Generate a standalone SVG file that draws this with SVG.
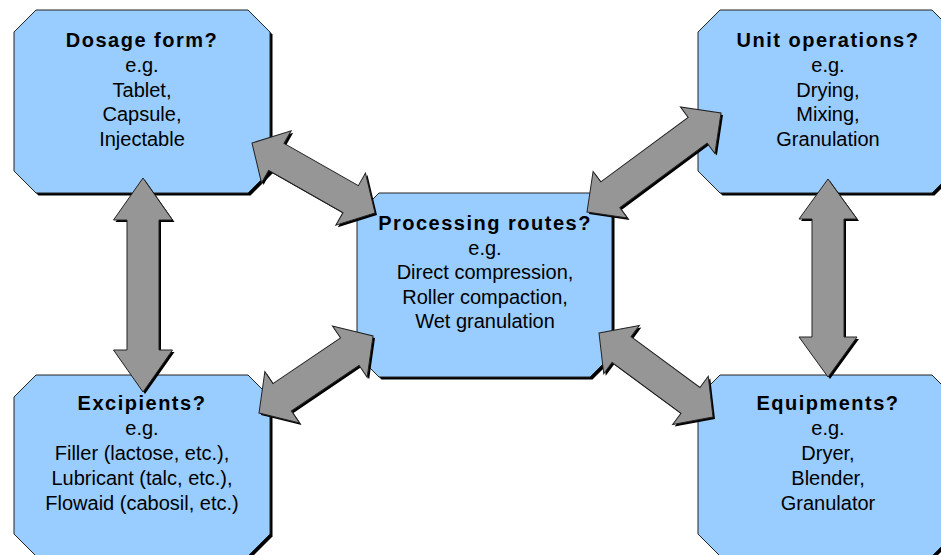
<svg xmlns="http://www.w3.org/2000/svg" width="941" height="555" viewBox="0 0 941 555">
<style>
.box{fill:#99CCFF;stroke:#222;stroke-width:1}
.shadow{fill:#000}
.arr{fill:#969696;stroke:#222;stroke-width:1;stroke-linejoin:miter}
text{font-family:"Liberation Sans",Arial,sans-serif;font-size:20px;fill:#000;text-anchor:middle}
.t{font-weight:bold;letter-spacing:1.5px}
</style>
<rect width="941" height="555" fill="#fff"/>
<g id="dosage">
<polygon class="shadow" transform="translate(2.5,2.5)" points="36,10 248,10 270,32 270,171 248,193 36,193 14,171 14,32"/>
<polygon class="box" points="36,10 248,10 270,32 270,171 248,193 36,193 14,171 14,32"/>
<text x="142" y="47" class="t">Dosage form?</text>
<text x="142" y="72">e.g.</text>
<text x="142" y="97">Tablet,</text>
<text x="142" y="121">Capsule,</text>
<text x="142" y="146">Injectable</text>
</g>
<g id="unitops">
<polygon class="shadow" transform="translate(2.5,2.5)" points="720,10 932,10 954,32 954,171 932,193 720,193 698,171 698,32"/>
<polygon class="box" points="720,10 932,10 954,32 954,171 932,193 720,193 698,171 698,32"/>
<text x="828" y="47" class="t">Unit operations?</text>
<text x="828" y="72">e.g.</text>
<text x="828" y="97">Drying,</text>
<text x="828" y="121">Mixing,</text>
<text x="828" y="146">Granulation</text>
</g>
<g id="routes">
<polygon class="shadow" transform="translate(2.5,2.5)" points="379,193 590,193 612,215 612,355 590,377 379,377 357,355 357,215"/>
<polygon class="box" points="379,193 590,193 612,215 612,355 590,377 379,377 357,355 357,215"/>
<text x="485" y="230" class="t">Processing routes?</text>
<text x="485" y="255">e.g.</text>
<text x="485" y="279">Direct compression,</text>
<text x="485" y="304">Roller compaction,</text>
<text x="485" y="328">Wet granulation</text>
</g>
<g id="excipients">
<polygon class="shadow" transform="translate(2.5,2.5)" points="36,375 248,375 270,397 270,534 248,556 36,556 14,534 14,397"/>
<polygon class="box" points="36,375 248,375 270,397 270,534 248,556 36,556 14,534 14,397"/>
<text x="142" y="410" class="t">Excipients?</text>
<text x="142" y="435">e.g.</text>
<text x="142" y="460">Filler (lactose, etc.),</text>
<text x="142" y="485">Lubricant (talc, etc.),</text>
<text x="142" y="510">Flowaid (cabosil, etc.)</text>
</g>
<g id="equipments">
<polygon class="shadow" transform="translate(2.5,2.5)" points="720,375 932,375 954,397 954,534 932,556 720,556 698,534 698,397"/>
<polygon class="box" points="720,375 932,375 954,397 954,534 932,556 720,556 698,534 698,397"/>
<text x="828" y="410" class="t">Equipments?</text>
<text x="828" y="435">e.g.</text>
<text x="828" y="460">Dryer,</text>
<text x="828" y="485">Blender,</text>
<text x="828" y="510">Granulator</text>
</g>
<g id="connectors">
<g transform="translate(2,2)">
<polygon class="shadow" transform="translate(252,143) rotate(29.64)" points="0,0 28,-30 28,-15.5 113.5,-15.5 113.5,-30 141.5,0 113.5,30 113.5,15.5 28,15.5 28,30"/>
<polygon class="shadow" transform="translate(587,212) rotate(-36.46)" points="0,0 29,-29 29,-16 137.6,-16 137.6,-29 166.6,0 137.6,29 137.6,16 29,16 29,29"/>
<polygon class="shadow" transform="translate(259,413) rotate(-34.04)" points="0,0 28,-31 28,-16.5 109.6,-16.5 109.6,-31 137.6,0 109.6,31 109.6,16.5 28,16.5 28,31"/>
<polygon class="shadow" transform="translate(599,333) rotate(36.38)" points="0,0 28,-30 28,-16 113.6,-16 113.6,-30 141.6,0 113.6,30 113.6,16 28,16 28,30"/>
<polygon class="shadow" transform="translate(143,178) rotate(90)" points="0,0 42,-29.5 42,-16 172,-16 172,-29.5 214,0 172,29.5 172,16 42,16 42,29.5"/>
<polygon class="shadow" transform="translate(828,179) rotate(90)" points="0,0 40,-29 40,-16 158,-16 158,-29 198,0 158,29 158,16 40,16 40,29"/>
</g>
<polygon class="arr" transform="translate(252,143) rotate(29.64)" points="0,0 28,-30 28,-15.5 113.5,-15.5 113.5,-30 141.5,0 113.5,30 113.5,15.5 28,15.5 28,30"/>
<polygon class="arr" transform="translate(587,212) rotate(-36.46)" points="0,0 29,-29 29,-16 137.6,-16 137.6,-29 166.6,0 137.6,29 137.6,16 29,16 29,29"/>
<polygon class="arr" transform="translate(259,413) rotate(-34.04)" points="0,0 28,-31 28,-16.5 109.6,-16.5 109.6,-31 137.6,0 109.6,31 109.6,16.5 28,16.5 28,31"/>
<polygon class="arr" transform="translate(599,333) rotate(36.38)" points="0,0 28,-30 28,-16 113.6,-16 113.6,-30 141.6,0 113.6,30 113.6,16 28,16 28,30"/>
<polygon class="arr" transform="translate(143,178) rotate(90)" points="0,0 42,-29.5 42,-16 172,-16 172,-29.5 214,0 172,29.5 172,16 42,16 42,29.5"/>
<polygon class="arr" transform="translate(828,179) rotate(90)" points="0,0 40,-29 40,-16 158,-16 158,-29 198,0 158,29 158,16 40,16 40,29"/>
</g>
</svg>
